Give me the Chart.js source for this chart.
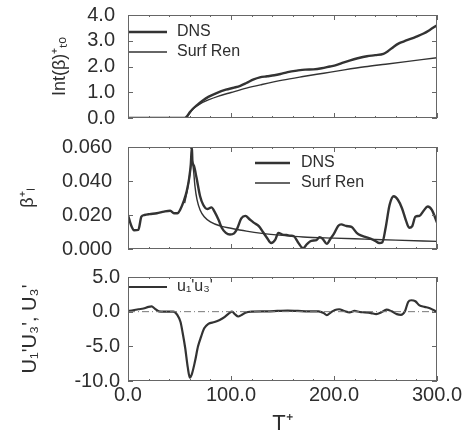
<!DOCTYPE html>
<html>
<head>
<meta charset="utf-8">
<script src="https://cdn.jsdelivr.net/npm/chart.js@4.4.1/dist/chart.umd.min.js"></script>
<style>
  body { margin: 0; background: #fff; }
  #wrap { position: relative; width: 468px; height: 440px; }
  #wrap canvas { position: absolute; left: 0; }
</style>
</head>
<body>
<div id="wrap">
  <canvas id="intChart" width="468" height="135" style="top:0"></canvas>
  <canvas id="betaChart" width="468" height="125" style="top:135px"></canvas>
  <canvas id="uuChart" width="468" height="180" style="top:260px"></canvas>
</div>
<script>
// integral of beta (top panel)
const intDnsT = [0, 55, 57, 60, 63, 67, 72, 78, 86, 95, 103, 109, 115, 122, 128, 135, 142, 148, 155, 164, 172, 180, 188, 196, 202, 208, 215, 223, 232, 240, 248, 252, 258, 263, 268, 275, 280, 287, 293, 300];
const intDns = [0, 0, 0.05, 0.22, 0.36, 0.5, 0.66, 0.82, 0.97, 1.1, 1.18, 1.25, 1.36, 1.5, 1.58, 1.62, 1.66, 1.71, 1.78, 1.84, 1.88, 1.89, 1.93, 2.0, 2.05, 2.14, 2.23, 2.32, 2.4, 2.44, 2.49, 2.58, 2.77, 2.9, 2.98, 3.08, 3.16, 3.28, 3.42, 3.6];
const intRenT = [0, 56, 58, 61, 65, 70, 78, 88, 100, 115, 130, 150, 170, 190, 210, 230, 250, 270, 300];
const intRen = [0, 0, 0.08, 0.25, 0.42, 0.55, 0.7, 0.85, 0.99, 1.16, 1.3, 1.47, 1.61, 1.74, 1.87, 1.99, 2.09, 2.19, 2.34];

// beta_L+ (middle panel)
const betaDnsT = [0, 3, 6, 10, 13, 16, 21, 28, 35, 41, 45, 48, 51, 54, 57, 59.5, 61, 62, 62.5, 64, 66.5, 70, 73, 77, 81, 84, 88, 91, 95, 99, 103, 106, 110, 114, 118, 122, 127, 131, 135, 139, 143, 146, 150, 154, 158, 161, 165, 170, 174, 178, 183, 186, 189, 193, 197, 200, 204, 207, 212, 217, 222, 226, 231, 236, 240, 244, 247, 250, 254, 258, 262, 266, 270, 273, 276, 279, 283, 287, 291, 295, 300];
const betaDns = [0.020, 0.014, 0.011, 0.0112, 0.019, 0.020, 0.0205, 0.021, 0.022, 0.0225, 0.021, 0.021, 0.0235, 0.028, 0.034, 0.042, 0.050, 0.060, 0.052, 0.049, 0.042, 0.031, 0.026, 0.0235, 0.0245, 0.022, 0.017, 0.0125, 0.0095, 0.0085, 0.0092, 0.012, 0.018, 0.0195, 0.0175, 0.0155, 0.0135, 0.010, 0.0065, 0.0035, 0.0055, 0.0095, 0.0085, 0.0082, 0.0078, 0.0075, 0.004, 0.0005, 0.003, 0.0048, 0.0052, 0.007, 0.006, 0.003, 0.0065, 0.009, 0.0135, 0.0145, 0.0135, 0.013, 0.0095, 0.008, 0.007, 0.006, 0.0048, 0.0035, 0.004, 0.012, 0.026, 0.031, 0.029, 0.024, 0.0165, 0.0125, 0.0135, 0.019, 0.0195, 0.0225, 0.025, 0.023, 0.0155];
const betaRenT = [55, 58, 60.5, 62, 63.5, 65, 67, 70, 74, 80, 90, 100, 115, 130, 150, 170, 200, 230, 260, 300];
const betaRen = [0.027, 0.036, 0.046, 0.052, 0.047, 0.037, 0.029, 0.023, 0.019, 0.016, 0.0135, 0.0122, 0.0105, 0.0092, 0.0080, 0.0071, 0.0064, 0.0058, 0.0052, 0.0045];

// u1'u3' (bottom panel)
const uuT = [0, 5, 10, 15, 20, 23, 26, 30, 35, 40, 44, 48, 51, 53, 55.5, 58, 60, 62, 65, 68, 71, 74, 78, 84, 89, 94, 98, 101, 104, 107, 110, 114, 120, 135, 145, 155, 165, 175, 185, 190, 193, 197, 201, 205, 210, 215, 220, 225, 230, 236, 241, 246, 251, 256, 261, 265, 269, 272, 275, 279, 283, 288, 293, 297, 300];
const uu = [0.1, 0.2, 0.35, 0.45, 0.7, 0.75, 0.45, 0.05, 0, 0, 0, -0.5, -1.5, -3.0, -5.2, -8.0, -9.5, -9.0, -7.2, -5.0, -3.6, -2.4, -1.75, -1.5, -1.2, -0.75, -0.25, 0, -0.4, -0.7, -0.5, -0.15, 0, 0.05, 0.1, 0.15, 0.1, 0.05, 0.05, -0.2, -0.5, -0.1, 0.25, 0.35, 0.1, -0.1, 0.1, -0.05, -0.1, -0.2, -0.35, -0.1, 0.3, 0.05, -0.35, -0.45, 0.1, 1.4, 1.65, 1.5, 0.9, 0.7, 0.5, 0.2, -0.1];
const zeroT = [0, 300];
const zeroV = [0, 0];

const xTicks = [0, 100, 200, 300];

const ink = "#2e2e2e";
const fontFam = "'Liberation Sans', Arial, sans-serif";

function pts(ts, vs) {
    return ts.map((t, i) => ({ x: t, y: vs[i] }));
}

const framePlugin = {
    id: "frame",
    afterDatasetsDraw(chart, args, opts) {
        const { ctx, chartArea: a, scales } = chart;
        const x = scales.x, y = scales.y;
        ctx.save();
        ctx.strokeStyle = "#666";
        ctx.lineWidth = 1;
        ctx.strokeRect(a.left + 0.5, a.top + 0.5, a.right - a.left - 1, a.bottom - a.top - 1);
        ctx.beginPath();
        for (let v = 0; v <= 300; v += 20) {
            const px = Math.round(x.getPixelForValue(v)) + 0.5;
            const len = v % 100 === 0 ? 5 : 2;
            ctx.moveTo(px, a.bottom); ctx.lineTo(px, a.bottom - len);
            ctx.moveTo(px, a.top); ctx.lineTo(px, a.top + len);
        }
        y.ticks.forEach(t => {
            const py = Math.round(y.getPixelForValue(t.value)) + 0.5;
            ctx.moveTo(a.left, py); ctx.lineTo(a.left + 5, py);
            ctx.moveTo(a.right, py); ctx.lineTo(a.right - 5, py);
        });
        ctx.stroke();
        ctx.restore();
    }
};

const keyPlugin = {
    id: "keys",
    afterDraw(chart, args, opts) {
        const ctx = chart.ctx;
        ctx.save();
        ctx.font = "16px " + fontFam;
        ctx.fillStyle = ink;
        ctx.textBaseline = "middle";
        let i = 0;
        chart.data.datasets.forEach(ds => {
            if (!ds.label) return;
            const y = opts.y + i * opts.step;
            ctx.strokeStyle = ds.borderColor;
            ctx.lineWidth = ds.borderWidth;
            ctx.beginPath();
            ctx.moveTo(opts.x, y);
            ctx.lineTo(opts.x + opts.len, y);
            ctx.stroke();
            ctx.fillText(ds.label, opts.x + opts.len + opts.gap, y);
            i++;
        });
        ctx.restore();
    }
};

function lineSet(label, data, width) {
    return {
        label: label,
        data: data,
        borderColor: "#333",
        borderWidth: width,
        pointRadius: 0,
        cubicInterpolationMode: "monotone",
        fill: false
    };
}

function makeOptions(cfg) {
    return {
        responsive: false,
        animation: false,
        layout: { padding: cfg.padding },
        plugins: {
            legend: { display: false },
            tooltip: { enabled: false },
            keys: cfg.keys
        },
        scales: {
            x: {
                type: "linear",
                min: 0,
                max: 300,
                display: cfg.showX,
                afterBuildTicks: s => { s.ticks = xTicks.map(v => ({ value: v })); },
                afterFit: s => { s.height = cfg.showX ? 59 : 0; },
                grid: { display: false, drawTicks: false },
                border: { display: false },
                ticks: {
                    padding: 2,
                    color: ink,
                    font: { family: fontFam, size: 20 },
                    callback: v => v.toFixed(1),
                    maxRotation: 0
                },
                title: {
                    display: cfg.showX,
                    text: "T⁺",
                    color: ink,
                    padding: 3,
                    font: { family: fontFam, size: 22 }
                }
            },
            y: {
                min: cfg.yMin,
                max: cfg.yMax,
                afterBuildTicks: s => { s.ticks = cfg.yTicks.map(v => ({ value: v })); },
                afterFit: s => {
                    s.width = 128;
                    s.paddingTop = 0;
                    s.paddingBottom = 0;
                },
                grid: { display: false, drawTicks: false },
                border: { display: false },
                ticks: {
                    padding: cfg.tickPad,
                    color: ink,
                    autoSkip: false,
                    font: { family: fontFam, size: 20, lineHeight: 1.1 },
                    callback: v => v.toFixed(cfg.digits)
                },
                title: {
                    display: true,
                    text: cfg.title,
                    color: ink,
                    padding: cfg.titlePad,
                    font: { family: fontFam, size: cfg.titleSize }
                }
            }
        }
    };
}

new Chart(document.getElementById("intChart"), {
    type: "line",
    data: {
        datasets: [
            lineSet("DNS", pts(intDnsT, intDns), 2.4),
            lineSet("Surf Ren", pts(intRenT, intRen), 1.4)
        ]
    },
    options: makeOptions({
        padding: { top: 15, right: 31, bottom: 17, left: 0 },
        showX: false,
        yMin: 0, yMax: 4, yTicks: [0, 1, 2, 3, 4], digits: 1,
        tickPad: 13,
        title: "Int(β)⁺ₜₒ", titlePad: 49, titleSize: 18,
        keys: { x: 129, y: 32, step: 20, len: 38, gap: 10 }
    }),
    plugins: [framePlugin, keyPlugin]
});

new Chart(document.getElementById("betaChart"), {
    type: "line",
    data: {
        datasets: [
            lineSet("DNS", pts(betaDnsT, betaDns), 2.4),
            lineSet("Surf Ren", pts(betaRenT, betaRen), 1.4)
        ]
    },
    options: makeOptions({
        padding: { top: 12, right: 31, bottom: 11, left: 0 },
        showX: false,
        yMin: 0, yMax: 0.06, yTicks: [0, 0.02, 0.04, 0.06], digits: 3,
        tickPad: 16,
        title: "β⁺ₗ", titlePad: 17, titleSize: 18,
        keys: { x: 255, y: 28, step: 20, len: 35, gap: 11 }
    }),
    plugins: [framePlugin, keyPlugin]
});

const zeroSet = lineSet("", pts(zeroT, zeroV), 1);
zeroSet.borderColor = "#777";
zeroSet.borderDash = [7, 3, 1, 3];

new Chart(document.getElementById("uuChart"), {
    type: "line",
    data: {
        datasets: [
            zeroSet,
            lineSet("u₁'u₃'", pts(uuT, uu), 2.2)
        ]
    },
    options: makeOptions({
        padding: { top: 17, right: 31, bottom: 0, left: 0 },
        showX: true,
        yMin: -10, yMax: 5, yTicks: [-10, -5, 0, 5], digits: 1,
        tickPad: 8,
        title: "U₁'U₃', U₃'", titlePad: 18, titleSize: 20,
        keys: { x: 129, y: 27, step: 20, len: 38, gap: 10 }
    }),
    plugins: [framePlugin, keyPlugin]
});
</script>
</body>
</html>
